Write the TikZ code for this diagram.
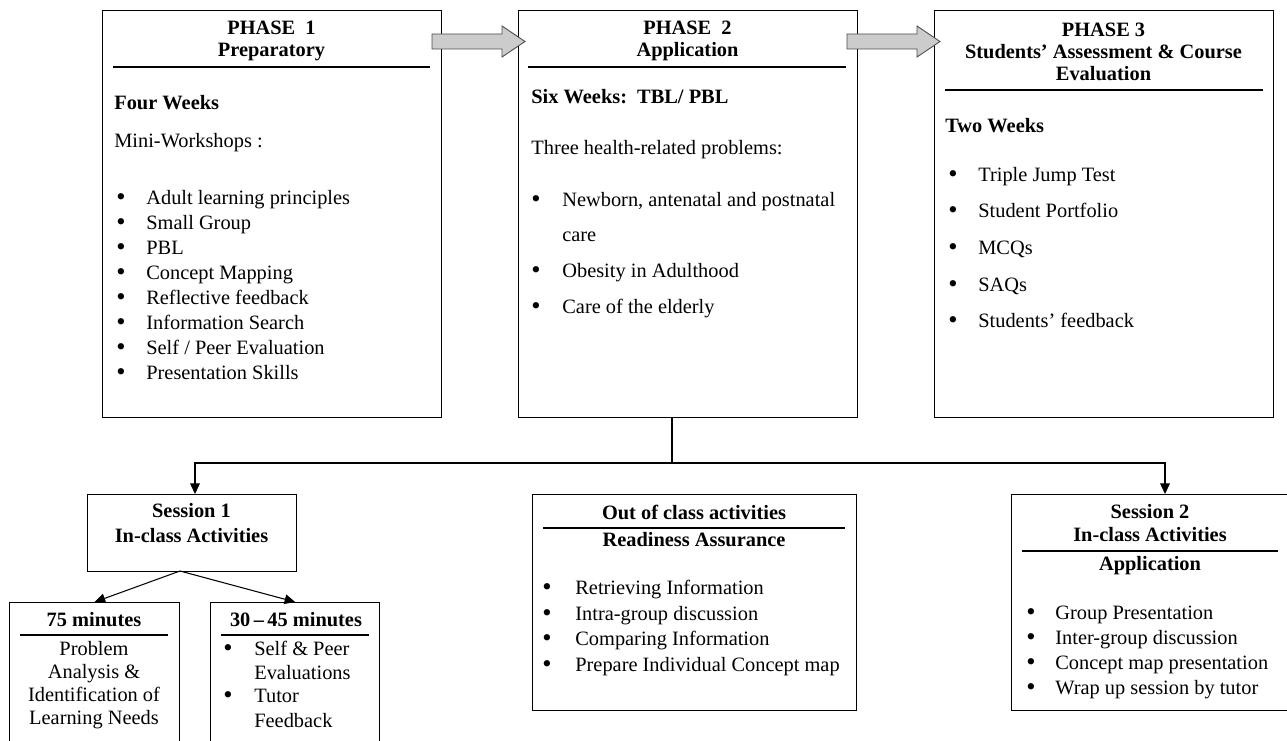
\documentclass[tikz,border=0pt]{standalone}
\usepackage{fontspec}
\setmainfont{Liberation Serif}
\usepackage{tikz}
\usetikzlibrary{arrows.meta}
\newcommand{\dfont}{\fontsize{11.6}{13.9}\selectfont}
\tikzstyle{box} = [draw, line width=0.8pt, inner sep=0pt, anchor=north west]
\tikzstyle{flow} = [line width=0.6pt, -{Triangle[length=6pt,width=5.5pt]}]
\tikzstyle{wire} = [line width=0.6pt]
\tikzstyle{rule} = [line width=1.2pt]
\tikzstyle{head} = [font=\dfont\bfseries, anchor=mid, inner sep=0pt]
\tikzstyle{txt} = [font=\dfont, anchor=mid west, inner sep=0pt]
\tikzstyle{bul} = [font=\dfont, anchor=mid west, inner sep=0pt, scale=1.3]
\tikzstyle{fatarrow} = [fill=gray!40, draw=black!70, line width=0.5pt, line join=miter]

\begin{document}
\begin{tikzpicture}[x=0.02cm,y=-0.02cm,font=\dfont]
                \useasboundingbox (0,0) rectangle (1287,740);
                \node[box, minimum width=6.78cm, minimum height=8.14cm] (phaseA) at (102,10) {};
                \node[box, minimum width=6.78cm, minimum height=8.14cm] (phaseB) at (518,10) {};
                \node[box, minimum width=6.78cm, minimum height=8.14cm] (phaseC) at (934,10) {};
                \node[box, minimum width=4.18cm, minimum height=1.54cm] (sessA) at (87,494) {};
                \node[box, minimum width=3.40cm, minimum height=3.20cm] (minA) at (9,602) {};
                \node[box, minimum width=3.38cm, minimum height=3.20cm] (minB) at (210,602) {};
                \node[box, minimum width=6.48cm, minimum height=4.32cm] (outcls) at (532,494) {};
                \node[box, minimum width=5.66cm, minimum height=4.32cm] (sessB) at (1011,494) {};
                \draw[fatarrow] (432,34) -- (502,34) -- (502,26) -- (525,41.5) -- (502,57) -- (502,49) -- (432,49) -- cycle;
                \draw[fatarrow] (847,34) -- (917,34) -- (917,26) -- (940,41.5) -- (917,57) -- (917,49) -- (847,49) -- cycle;
                \coordinate (split) at (672,463);
                \coordinate (hubA) at (195,463);
                \coordinate (hubB) at (1165,463);
                \coordinate (fork) at (180,571);
                \draw[wire] (phaseB.south -| split) -- (split);
                \draw[flow] (split) -- (hubA) -- (hubA |- sessA.north);
                \draw[flow] (split) -- (hubB) -- (hubB |- sessB.north);
                \draw[flow] (fork) -- (minA.north);
                \draw[flow] (fork) -- (minB.north);
                \node[head] (pa-h1) at (271.5,30) {PHASE~~1};
                \node[head] (pa-h2) at (271.5,52) {Preparatory};
                \draw[rule] (113,67) -- (430,67);
                \node[txt, font=\dfont\bfseries] (pa-wk) at (114,105) {Four Weeks};
                \node[txt] (pa-mw) at (114,143) {Mini-Workshops :};
                \foreach \yy/\tx [count=\i] in {200/Adult learning principles, 225/Small Group, 250/PBL, 275/Concept Mapping, 300/Reflective feedback, 325/Information Search, 350/{Self / Peer Evaluation}, 375/Presentation Skills}
                {
                    \node[bul] (pa-b\i) at (116,\yy) {•};
                    \node[txt] (pa-t\i) at (146,\yy) {\tx};
                }
                \node[head] (pb-h1) at (687.5,30) {PHASE~~2};
                \node[head] (pb-h2) at (687.5,52) {Application};
                \draw[rule] (528,67) -- (846,67);
                \node[txt, font=\dfont\bfseries] (pb-wk) at (531,99) {Six Weeks:~~TBL/ PBL};
                \node[txt] (pb-pr) at (531,150) {Three health-related problems:};
                \foreach \yy/\tx [count=\i] in {202/{Newborn, antenatal and postnatal}, 273/Obesity in Adulthood, 309/Care of the elderly}
                {
                    \node[bul] (pb-b\i) at (531,\yy) {•};
                    \node[txt] (pb-t\i) at (562,\yy) {\tx};
                }
                \node[txt] (pb-t1b) at (562,237) {care};
                \node[head] (pc-h1) at (1103.5,32) {PHASE 3};
                \node[head] (pc-h2) at (1103.5,54) {Students' Assessment \& Course};
                \node[head] (pc-h3) at (1103.5,76) {Evaluation};
                \draw[rule] (945,90) -- (1263,90);
                \node[txt, font=\dfont\bfseries] (pc-wk) at (945,128) {Two Weeks};
                \foreach \yy/\tx [count=\i] in {177/Triple Jump Test, 213/Student Portfolio, 250/MCQs, 287/SAQs, 323/Students' feedback}
                {
                    \node[bul] (pc-b\i) at (948,\yy) {•};
                    \node[txt] (pc-t\i) at (978,\yy) {\tx};
                }
                \node[head] (sa-h1) at (191.5,513) {Session 1};
                \node[head] (sa-h2) at (191.5,538) {In-class Activities};
                \node[head] (ma-h) at (94,622) {75 minutes};
                \draw[rule] (20,635) -- (168,635);
                \foreach \yy/\tx [count=\i] in {651/Problem, 674/Analysis \&, 697/Identification of, 720/Learning Needs}
                    \node[anchor=mid, inner sep=0pt] (ma-t\i) at (94,\yy) {\tx};
                \node[head] (mb-h) at (296,622) {30\,--\,45 minutes};
                \draw[rule] (221,635) -- (369,635);
                \node[bul] (mb-b1) at (223,651) {•};
                \node[txt] (mb-t1) at (254,651) {Self \& Peer};
                \node[txt] (mb-t1b) at (254,675) {Evaluations};
                \node[bul] (mb-b2) at (223,698) {•};
                \node[txt] (mb-t2) at (254,698) {Tutor};
                \node[txt] (mb-t2b) at (254,723) {Feedback};
                \node[head] (oc-h1) at (694,515) {Out of class activities};
                \draw[rule] (543,528) -- (845,528);
                \node[head] (oc-h2) at (694,542) {Readiness Assurance};
                \foreach \yy/\tx [count=\i] in {590/Retrieving Information, 616/Intra-group discussion, 641/Comparing Information, 667/Prepare Individual Concept map}
                {
                    \node[bul] (oc-b\i) at (542,\yy) {•};
                    \node[txt] (oc-t\i) at (575,\yy) {\tx};
                }
                \node[head] (sb-h1) at (1150,514) {Session 2};
                \node[head] (sb-h2) at (1150,537) {In-class Activities};
                \draw[rule] (1022,551) -- (1278,551);
                \node[head] (sb-h3) at (1150,566) {Application};
                \foreach \yy/\tx [count=\i] in {615/Group Presentation, 640/Inter-group discussion, 665/Concept map presentation, 690/Wrap up session by tutor}
                {
                    \node[bul] (sb-b\i) at (1026,\yy) {•};
                    \node[txt] (sb-t\i) at (1055,\yy) {\tx};
                }
            \end{tikzpicture}
\end{document}
